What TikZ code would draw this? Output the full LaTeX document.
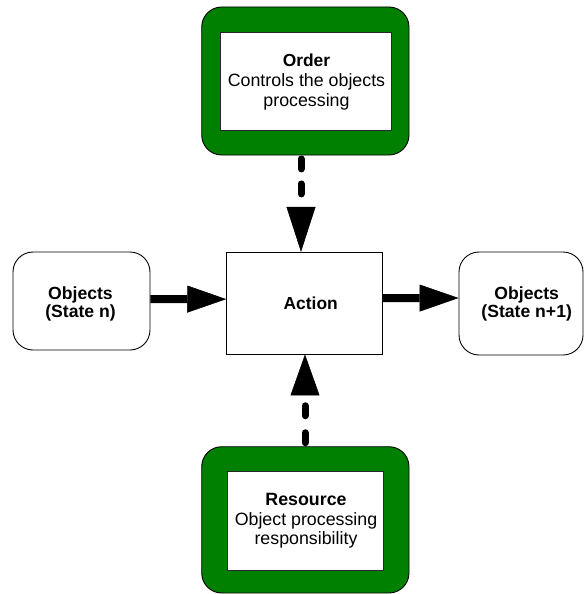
\documentclass[tikz,border=0pt]{standalone}
\usepackage{fontspec}
\setmainfont{Liberation Sans}
\usetikzlibrary{arrows.meta}
\definecolor{framegreen}{RGB}{0,128,0}
\definecolor{edgegray}{RGB}{40,40,40}
\begin{document}
\begin{tikzpicture}[x=1pt,y=-1pt,
  txt/.style={font=\fontsize{17.8}{19.8}\selectfont, align=center, inner sep=0pt},
  objtxt/.style={font=\fontsize{17.6}{18}\selectfont\bfseries, align=center, inner sep=0pt},
  greenframe/.style={draw=black, line width=0.9pt, fill=framegreen, rounded corners=20pt, inner sep=0pt},
  innerbox/.style={draw=edgegray, line width=0.9pt, fill=white, inner sep=0pt},
  actionbox/.style={draw=black, line width=0.9pt, fill=white, inner sep=0pt},
  objbox/.style={draw=black, line width=0.9pt, fill=white, rounded corners=20pt, inner sep=0pt},
  flow/.style={line width=8pt, -{Triangle[length=39pt,width=27pt,line width=0.5pt]}},
  control/.style={line width=7pt, line cap=round}
]
\useasboundingbox (0,0) rectangle (584,594);

% Order: green frame with the description panel
\node[greenframe, minimum width=207.3pt, minimum height=148pt] (orderframe) at (305.35,81) {};
\node[innerbox, minimum width=171pt, minimum height=98pt] (order) at (305.5,81) {};
\node[txt] (ordertext) at (306.5,82) {\fontsize{17.4}{19.8}\selectfont\textbf{Order}\\Controls the objects\\processing};

% Resource: green frame with the description panel
\node[greenframe, minimum width=207.3pt, minimum height=146.3pt] (resframe) at (305.35,519.85) {};
\node[innerbox, minimum width=155.6pt, minimum height=98.3pt] (resource) at (305.5,520.85) {};
\node[txt] (restext) at (306,520.8) {\textbf{Resource}\\Object processing\\responsibility};

% Action in the middle
\node[actionbox, minimum width=155.6pt, minimum height=101.7pt] (action) at (304.5,303.15) {};
\node[txt, font=\fontsize{17.4}{19.5}\selectfont\bfseries] (actiontext) at (310.7,303) {Action};

% Objects before and after the action
\node[objbox, minimum width=137pt, minimum height=98pt] (lobj) at (81.5,301) {};
\node[objtxt] (lobjtext) at (80.5,303.6) {Objects\\(State n)};
\node[objbox, minimum width=124pt, minimum height=103pt] (robj) at (521,303.5) {};
\node[objtxt] (robjtext) at (526.7,303.6) {Objects\\(State n+1)};

% Object flow
\draw[flow] ([yshift=2pt]lobj.east) -- ([yshift=4pt]action.west);
\draw[flow] ([yshift=5pt]action.east) -- ([yshift=5.5pt]robj.west);

% Control and resource links
\draw[control, dash pattern=on 10pt off 15pt, dash phase=21.5pt,
      -{Triangle[length=45pt,width=29pt,line width=0.5pt]}]
  ([xshift=-4.35pt]orderframe.south) -- ([xshift=-3.5pt]action.north);
\draw[control, dash pattern=on 10pt off 17pt, dash phase=23.5pt,
      -{Triangle[length=41pt,width=29pt,line width=0.5pt]}]
  ([xshift=-0.35pt]resframe.north) -- ([xshift=0.5pt]action.south);
\end{tikzpicture}
\end{document}
